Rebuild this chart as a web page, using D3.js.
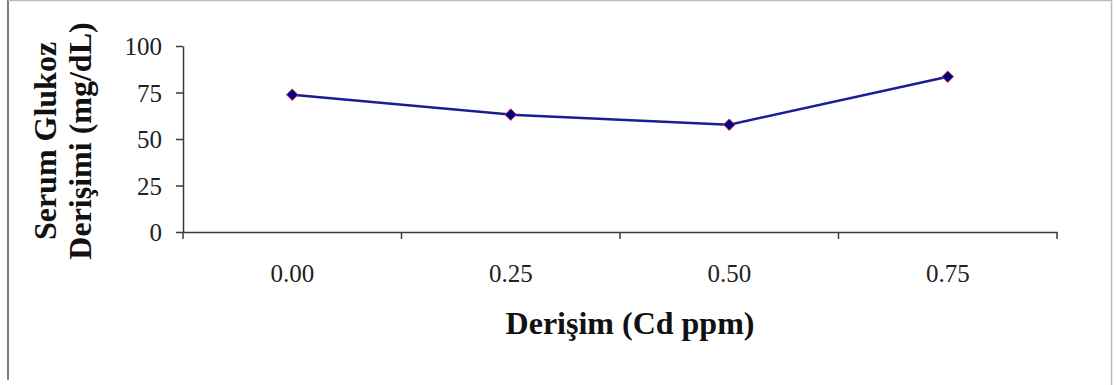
<!DOCTYPE html>
<html>
<head>
<meta charset="utf-8">
<script src="https://cdn.jsdelivr.net/npm/d3@7"></script>
<style>
  body { margin: 0; background: #fff; }
  svg { display: block; font-family: "Liberation Serif", "Times New Roman", serif; }
  .axis path, .axis line { stroke: #3a3a3a; stroke-width: 1.5; }
  .axis text { fill: #222; font-size: 25px; font-family: "Liberation Serif", "Times New Roman", serif; }
</style>
</head>
<body>
<svg width="1116" height="385"></svg>
<script>
var categories = ["0.00", "0.25", "0.50", "0.75"];
var glucose = [73.8, 63.1, 57.7, 83.5];
var yTicks = [0, 25, 50, 75, 100];

var xTitle = "Derişim (Cd ppm)";
var yTitle = ["Serum Glukoz", "Derişimi (mg/dL)"];

var svg = d3.select("svg");

var x = d3.scaleBand().domain(categories).range([183, 1057]).padding(0);
var y = d3.scaleLinear().domain([0, 100]).range([232, 46]);

// frame of the figure
svg.append("line").attr("x1", 8).attr("x2", 8).attr("y1", 0).attr("y2", 380)
  .attr("stroke", "#555").attr("stroke-width", 1.5);
svg.append("line").attr("x1", 8).attr("x2", 1112).attr("y1", 0.5).attr("y2", 0.5)
  .attr("stroke", "#bbb").attr("stroke-width", 1.5);
svg.append("line").attr("x1", 1111.5).attr("x2", 1111.5).attr("y1", 0).attr("y2", 385)
  .attr("stroke", "#bbb").attr("stroke-width", 1.5);

// y axis
svg.append("g")
  .attr("class", "axis")
  .attr("transform", "translate(183,0)")
  .call(d3.axisLeft(y).tickValues(yTicks).tickSize(7).tickSizeOuter(0).tickPadding(14))
  .attr("font-family", null)
  .selectAll("text").attr("dy", "0.35em");

// x axis: labels centred in bands, ticks on band edges
var xg = svg.append("g")
  .attr("class", "axis")
  .attr("transform", "translate(0,232)")
  .call(d3.axisBottom(x).tickSize(0).tickSizeOuter(0).tickPadding(32))
  .attr("font-family", null);

var edges = categories.map(function(c) { return x(c); }).concat([x(categories[categories.length - 1]) + x.bandwidth()]);
xg.selectAll(".edge")
  .data(edges)
  .enter()
  .append("line")
  .attr("class", "edge")
  .attr("x1", function(d) { return d; })
  .attr("x2", function(d) { return d; })
  .attr("y1", 0)
  .attr("y2", 7);

// series
var line = d3.line()
  .x(function(d, i) { return x(categories[i]) + x.bandwidth() / 2; })
  .y(function(d) { return y(d); });

svg.append("path")
  .datum(glucose)
  .attr("d", line)
  .attr("fill", "none")
  .attr("stroke", "#1c1c94")
  .attr("stroke-width", 2.5);

svg.selectAll(".marker")
  .data(glucose)
  .enter()
  .append("path")
  .attr("class", "marker")
  .attr("d", d3.symbol().type(d3.symbolDiamond2).size(85))
  .attr("transform", function(d, i) {
    return "translate(" + (x(categories[i]) + x.bandwidth() / 2) + "," + y(d) + ")";
  })
  .attr("fill", "#000080")
  .attr("stroke", "#e0304a")
  .attr("stroke-width", 1);

// titles
svg.append("text")
  .attr("x", 630)
  .attr("y", 334)
  .attr("text-anchor", "middle")
  .attr("font-size", 32)
  .attr("font-weight", "bold")
  .attr("fill", "#111")
  .text(xTitle);

svg.selectAll(".ytitle")
  .data(yTitle)
  .enter()
  .append("text")
  .attr("class", "ytitle")
  .attr("transform", function(d, i) { return "translate(" + (56 + i * 35) + ",141) rotate(-90)"; })
  .attr("text-anchor", "middle")
  .attr("font-size", 32)
  .attr("font-weight", "bold")
  .attr("fill", "#111")
  .text(function(d) { return d; });
</script>
</body>
</html>
